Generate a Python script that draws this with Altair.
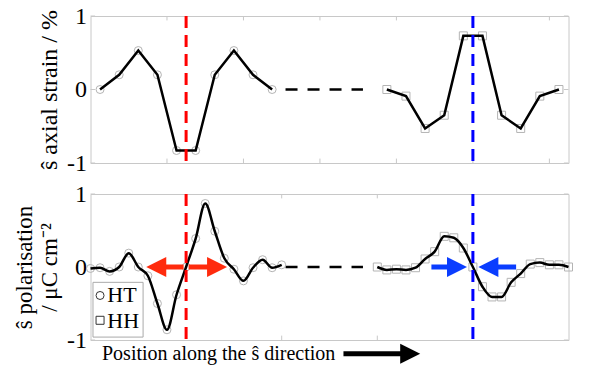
import altair as alt
import pandas as pd

FONT = "Liberation Serif"
GRAY = "#c8c8c8"
MARK_GRAY = "#b4b4b4"
RED = "#ff0000"
BLUE = "#0000ff"
ARROW_RED = "#ff2b0d"
ARROW_BLUE = "#0a3dff"

# ---------- data ----------
top_ht_x = [0, 1, 2, 3, 4, 5, 6, 7, 8, 9]
top_ht_y = [0, 0.2, 0.53, 0.2, -0.83, -0.83, 0.2, 0.53, 0.2, 0]
top_hh_x = [15, 16, 17, 18, 19, 20, 21, 22, 23, 24]
top_hh_y = [0, -0.09, -0.53, -0.35, 0.73, 0.73, -0.35, -0.53, -0.09, 0]

bot_ht_x = [-0.5, 0, 0.5, 1, 1.5, 2, 2.5, 3, 3.5, 4, 4.5, 5, 5.5, 6, 6.5, 7, 7.5, 8, 8.5, 9, 9.5]
bot_ht_y = [-0.02, -0.01, -0.06, 0.0, 0.19, 0.0, -0.12, -0.5, -0.86, -0.38, 0.0,
            0.39, 0.87, 0.49, 0.12, -0.03, -0.19, -0.01, 0.10, -0.01, 0.03]
bot_hh_x = [14.5, 15, 15.5, 16, 16.5, 17, 17.5, 18, 18.5, 19, 19.5, 20, 20.5, 21, 21.5, 22, 22.5, 23, 23.5, 24, 24.5]
bot_hh_y = [0.0, -0.04, -0.03, -0.04, -0.01, 0.11, 0.21, 0.42, 0.40, 0.26, 0.0,
            -0.27, -0.41, -0.41, -0.21, -0.09, 0.04, 0.06, 0.03, 0.03, 0.0]

gap_x = [9.7, 13.75]
gap_y = [0, 0]

red_line_x = [4.5]
blue_line_x = [19.5]

top_tick_x = [3.5, 7.5, 11.5, 15.5, 19.5, 23.5]
bot_tick_x = [9.5, 14.5]
tick_y = [-1, 0, 1]
tick_labels = ["-1", "0", "1"]

# arrows: shaft start, shaft end (under head), head centre, direction
arrow_shaft_x = [4.37, 4.63, 17.33, 21.76, 12.73]
arrow_shaft_x2 = [3.2, 5.9, 18.4, 20.55, 15.9]
arrow_y = [0, 0, 0, 0, -1.19]
arrow_head_x = [2.94, 6.12, 18.67, 20.31, 16.22]
arrow_dir = ["left", "right", "right", "left", "right"]
arrow_col = ["red", "red", "blue", "blue", "black"]

legend_box = {"x": -0.37, "x2": 2.25, "y": -0.21, "y2": -0.96}
legend_labels = ["HT", "HH"]
legend_shapes = ["circle", "square"]
legend_marker_y = [-0.39, -0.73]
legend_text_y = [-0.48, -0.84]

xtitle = "Position along the ŝ direction"

X_DOMAIN = [-0.5, 24.5]
xs = alt.Scale(domain=X_DOMAIN, nice=False, zero=False)
ys = alt.Scale(domain=[-1, 1], nice=False, zero=False)

W, H1, H2 = 478, 147, 146

LABEL_EXPR = ("datum.value > 0.5 ? '%s' : (datum.value < -0.5 ? '%s' : '%s')"
              % (tick_labels[2], tick_labels[0], tick_labels[1]))


def series_df(xv, yv):
    return pd.DataFrame({"x": xv, "y": yv})


def yaxis(title, tsize):
    return alt.Axis(values=tick_y, labelExpr=LABEL_EXPR,
                    labelOverlap=False, title=title, grid=False, ticks=False, domain=False,
                    labelFont=FONT, labelFontSize=24, labelColor="black", labelPadding=4,
                    titleFont=FONT, titleFontSize=tsize, titleFontWeight="normal",
                    titleColor="black", titlePadding=5, titleLineHeight=25)


def tick_layers(tx, yaxis_title, tsize):
    txdf = pd.DataFrame({"x": tx})
    t_top = alt.Chart(txdf).mark_rule(color=GRAY, strokeWidth=1).encode(
        x=alt.X("x:Q", scale=xs, axis=None),
        y=alt.datum(1, scale=ys, axis=yaxis(yaxis_title, tsize)),
        y2=alt.datum(0.94))
    t_bot = alt.Chart(txdf).mark_rule(color=GRAY, strokeWidth=1).encode(
        x=alt.X("x:Q", scale=xs, axis=None),
        y=alt.datum(-1), y2=alt.datum(-0.94))
    tydf = pd.DataFrame({"y": tick_y})
    t_left = alt.Chart(tydf).mark_rule(color=GRAY, strokeWidth=1).encode(
        x=alt.datum(X_DOMAIN[0]), x2=alt.datum(X_DOMAIN[0] + 0.24), y="y:Q")
    t_right = alt.Chart(tydf).mark_rule(color=GRAY, strokeWidth=1).encode(
        x=alt.datum(X_DOMAIN[1] - 0.24), x2=alt.datum(X_DOMAIN[1]), y="y:Q")
    return [t_top, t_bot, t_left, t_right]


def gap_layer():
    return alt.Chart(series_df(gap_x, gap_y)).mark_line(
        color="black", strokeWidth=2.5, strokeDash=[12, 10]).encode(
        x=alt.X("x:Q", scale=xs), y=alt.Y("y:Q", scale=ys))


def vlines():
    r = alt.Chart(pd.DataFrame({"x": red_line_x})).mark_rule(
        color=RED, strokeWidth=3, strokeDash=[12, 7]).encode(x=alt.X("x:Q", scale=xs))
    b = alt.Chart(pd.DataFrame({"x": blue_line_x})).mark_rule(
        color=BLUE, strokeWidth=3, strokeDash=[12, 7]).encode(x=alt.X("x:Q", scale=xs))
    return [r, b]


def series_layers(xv, yv, shape, interp):
    d = series_df(xv, yv)
    pts = alt.Chart(d).mark_point(shape=shape, size=64, filled=False, color=MARK_GRAY,
                                  strokeWidth=1, opacity=1).encode(
        x=alt.X("x:Q", scale=xs), y=alt.Y("y:Q", scale=ys))
    ln = alt.Chart(d).mark_line(color="black", strokeWidth=2.5, interpolate=interp).encode(
        x=alt.X("x:Q", scale=xs), y=alt.Y("y:Q", scale=ys))
    return [pts, ln]


# ---------- top panel ----------
top_layers = tick_layers(top_tick_x, "ŝ axial strain / %", 24)
top_layers += [gap_layer()]
top_layers += series_layers(top_ht_x, top_ht_y, "circle", "linear")
top_layers += series_layers(top_hh_x, top_hh_y, "square", "linear")
top_layers += vlines()
top = alt.layer(*top_layers).properties(width=W, height=H1)

# ---------- bottom panel ----------
bot_layers = tick_layers(bot_tick_x, ["ŝ polarisation", "/ μC cm⁻²"], 23)
bot_layers += [gap_layer()]
bot_layers += series_layers(bot_ht_x, bot_ht_y, "circle", "monotone")
bot_layers += series_layers(bot_hh_x, bot_hh_y, "square", "monotone")
bot_layers += vlines()

arr = pd.DataFrame({"x": arrow_shaft_x, "x2": arrow_shaft_x2, "y": arrow_y,
                    "hx": arrow_head_x, "dir": arrow_dir, "col": arrow_col})
col_scale = alt.Scale(domain=["red", "blue", "black"], range=[ARROW_RED, ARROW_BLUE, "black"])
shape_scale = alt.Scale(domain=["left", "right"], range=["M1,-1L-1,0L1,1Z", "M-1,-1L1,0L-1,1Z"])
shafts = alt.Chart(arr).mark_rule(strokeWidth=5).encode(
    x=alt.X("x:Q", scale=xs), x2="x2:Q", y=alt.Y("y:Q", scale=ys),
    color=alt.Color("col:N", scale=col_scale, legend=None))
heads = alt.Chart(arr).mark_point(filled=True, size=400, opacity=1, strokeWidth=0).encode(
    x=alt.X("hx:Q", scale=xs), y=alt.Y("y:Q", scale=ys),
    color=alt.Color("col:N", scale=col_scale, legend=None),
    shape=alt.Shape("dir:N", scale=shape_scale, legend=None))

xt = alt.Chart(pd.DataFrame({"x": [0.1], "y": [-1.19], "t": [xtitle]})).mark_text(
    align="left", baseline="middle", font=FONT, fontSize=20, color="black").encode(
    x=alt.X("x:Q", scale=xs), y=alt.Y("y:Q", scale=ys), text="t:N")

lb = alt.Chart(pd.DataFrame([legend_box])).mark_rect(
    fill="white", stroke="#aaaaaa", strokeWidth=1).encode(
    x=alt.X("x:Q", scale=xs), x2="x2:Q", y=alt.Y("y:Q", scale=ys), y2="y2:Q")
ld = pd.DataFrame({"lab": legend_labels, "shp": legend_shapes,
                   "my": legend_marker_y, "ty": legend_text_y})
lm = alt.Chart(ld).mark_point(size=64, filled=False, color="#333333", strokeWidth=1,
                              opacity=1).encode(
    x=alt.datum(0.0, scale=xs), y=alt.Y("my:Q", scale=ys),
    shape=alt.Shape("shp:N", scale=alt.Scale(domain=["circle", "square"],
                                             range=["circle", "square"]), legend=None))
lt = alt.Chart(ld).mark_text(align="left", baseline="alphabetic", font=FONT, fontSize=22,
                             color="black").encode(
    x=alt.datum(0.38, scale=xs), y=alt.Y("ty:Q", scale=ys), text="lab:N")

bot_layers += [shafts, heads, xt, lb, lm, lt]
bottom = alt.layer(*bot_layers).properties(width=W, height=H2).resolve_scale(shape="independent", color="independent")

chart = alt.vconcat(top, bottom, spacing=5).properties(
    padding={"left": 4.5, "top": -5, "right": 0, "bottom": 0}
).configure_view(stroke=GRAY, strokeWidth=1)

chart.save("out.html", embed_options={"renderer": "svg", "actions": False})
